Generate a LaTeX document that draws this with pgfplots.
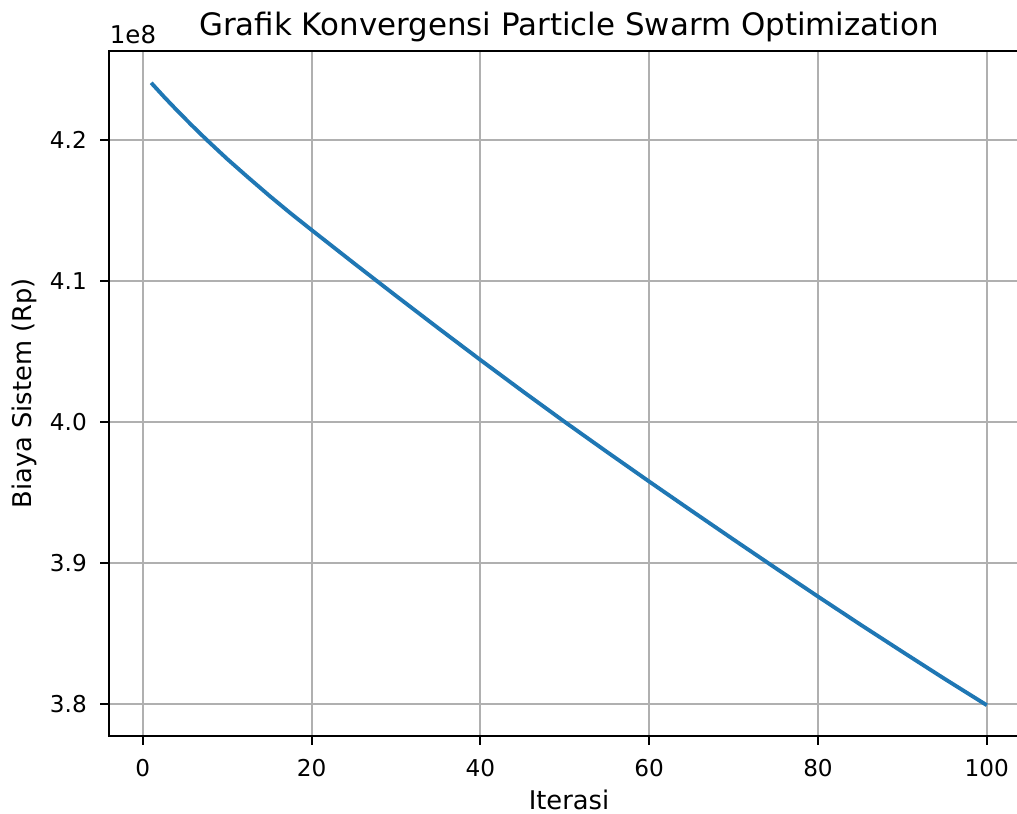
\documentclass[border=0pt]{standalone}
\usepackage{fontspec}
\setmainfont{DejaVu Sans}
\usepackage{pgfplots}
\pgfplotsset{compat=1.18}
\definecolor{mplblue}{HTML}{1F77B4}
\definecolor{gridgray}{HTML}{B0B0B0}
\begin{document}
\fontsize{10pt}{12pt}\selectfont
\begin{tikzpicture}
\begin{axis}[
  scale only axis, width=357.1pt, height=266.1pt,
  xmin=-3.95, xmax=104.95, ymin=3.7772, ymax=4.2632,
  xtick={0,20,40,60,80,100}, ytick={3.8,3.9,4.0,4.1,4.2},
  scaled y ticks=false,
  /pgf/number format/assume math mode=true,
  grid=major, major grid style={gridgray, line width=0.8pt},
  axis line style={black, line width=0.8pt},
  tick style={black, line width=0.8pt},
  tick align=outside, major tick length=3.5pt,
  xtick pos=left, ytick pos=left,
  tick label style={font=\fontsize{9pt}{11pt}\selectfont, inner sep=0pt},
  xticklabel style={anchor=north, yshift=-5.5pt},
  yticklabel style={anchor=east, xshift=-5.1pt, /pgf/number format/fixed, /pgf/number format/fixed zerofill, /pgf/number format/precision=1},
  clip=false,
]
\addplot[mplblue, line width=1.5pt] coordinates {
(1,4.2406) (2.5,4.2308) (4,4.2214) (5.8,4.2105) (7.6,4.2000) (10,4.1866)
(12.5,4.1734) (15,4.1605) (17.5,4.1481) (20,4.1362)
(25,4.1127) (30,4.0895) (35,4.0666) (40,4.0440) (45,4.0218) (50,4.0000)
(55,3.9787) (60,3.9577) (65,3.9370) (70,3.9165) (75,3.8962) (80,3.8761)
(85,3.8563) (90,3.8369) (95,3.8177) (100,3.7990)
};
\end{axis}
\node[anchor=base west, inner sep=0pt, font=\fontsize{9.5pt}{11pt}\selectfont] at ([yshift=3pt]current axis.north west) {1e8};
\node[anchor=base, inner sep=0pt, font=\fontsize{12pt}{14pt}\selectfont] at ([yshift=6pt]current axis.north) {Grafik Konvergensi Particle Swarm Optimization};
\node[anchor=base, inner sep=0pt] at ([yshift=-28.6pt]current axis.south) {Iterasi};
\node[anchor=base, inner sep=0pt, rotate=90] at ([xshift=-30.4pt]current axis.west) {Biaya Sistem (Rp)};
\pgfresetboundingbox
\useasboundingbox ([xshift=-42.5pt,yshift=-30.3pt]current axis.south west) rectangle ([xshift=352.6pt,yshift=19.8pt]current axis.north west);
\end{tikzpicture}
\end{document}
